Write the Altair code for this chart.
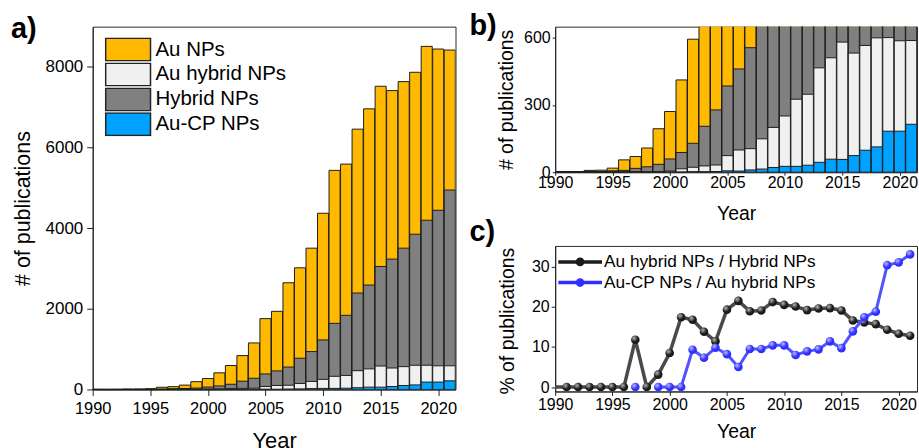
import altair as alt
import pandas as pd

FONT = "Liberation Sans"

# ---- yearly publication counts (panels a and b) ----
years = list(range(1990, 2022))
au_nps = [3, 2, 3, 8, 9, 18, 55, 70, 108, 194,
          271, 412, 594, 841, 1155, 1757, 1938, 2647, 3018, 3505,
          4371, 5435, 5591, 6457, 6961, 7521, 7414, 7637, 7868, 8511,
          8445, 8420]
hybrid_nps = [1, 1, 1, 3, 3, 6, 8, 17, 24, 35,
              59, 88, 129, 205, 278, 385, 461, 556, 775, 940,
              1229, 1641, 1839, 2392, 2590, 3051, 3233, 3505, 3851, 4198,
              4445, 4948]
au_hybrid_nps = [0, 0, 0, 0, 0, 0, 0, 2, 0, 1,
                 5, 15, 22, 28, 32, 74, 99, 105, 149, 200,
                 251, 326, 348, 466, 511, 581, 532, 566, 600, 601,
                 587, 588]
au_cp_nps = [0, 0, 0, 0, 0, 0, 0, 0, 0, 0,
             0, 0, 2, 2, 3, 6, 5, 10, 14, 21,
             26, 26, 31, 44, 58, 57, 74, 98, 113, 183,
             183, 214]

series_names = ["Au NPs", "Au hybrid NPs", "Hybrid NPs", "Au-CP NPs"]
series_colors = ["#FFB900", "#F0F0F0", "#808080", "#00A2FF"]
# drawing order, back to front (bars overlap, all starting at zero)
draw_order = ["Au NPs", "Hybrid NPs", "Au hybrid NPs", "Au-CP NPs"]
values_by_series = {
    "Au NPs": au_nps,
    "Au hybrid NPs": au_hybrid_nps,
    "Hybrid NPs": hybrid_nps,
    "Au-CP NPs": au_cp_nps,
}

# ---- percentage ratios (panel c) ----
ratio_names = ["Au hybrid NPs / Hybrid NPs", "Au-CP NPs / Au hybrid NPs"]
ratio_hybrid = [0, 0, 0, 0, 0, 0, 0, 11.8, 0, 3.1,
                8.5, 17.4, 16.8, 13.8, 11.4, 19.3, 21.5, 18.9, 19.1, 21.2,
                20.5, 20.1, 19.2, 19.6, 19.7, 19.1, 16.6, 16.1, 15.7, 14.3,
                13.3, 12.8]
ratio_cp = [None, None, None, None, None, None, None, 0, None, 0,
            0, 0, 9.3, 7.3, 9.8, 8.2, 5.0, 9.5, 9.5, 10.4,
            10.4, 8.0, 8.9, 9.4, 11.4, 9.7, 13.9, 17.4, 18.8, 30.4,
            31.1, 33.1]

year_ticks = [1990, 1995, 2000, 2005, 2010, 2015, 2020]

bars_df = pd.DataFrame(
    [{"year": yr, "series": s, "count": v}
     for s in draw_order for yr, v in zip(years, values_by_series[s])]
)
ratio_df = pd.DataFrame(
    [{"year": yr, "ratio": ratio_names[0], "pct": v} for yr, v in zip(years, ratio_hybrid)]
    + [{"year": yr, "ratio": ratio_names[1], "pct": v} for yr, v in zip(years, ratio_cp)]
)


def bar_layer(ymax, xaxis, yaxis, legend):
    return alt.Chart(bars_df).transform_calculate(
        x0="datum.year - 0.48", x1="datum.year + 0.48", base="0"
    ).mark_bar(stroke="#1e1e1e", strokeWidth=1, clip=True, opacity=1).encode(
        x=alt.X("x0:Q", scale=alt.Scale(domain=[1990, 2021.5], nice=False, zero=False), axis=xaxis),
        x2="x1:Q",
        y=alt.Y("count:Q", stack=None, scale=alt.Scale(domain=[0, ymax], nice=False), axis=yaxis),
        y2="base:Q",
        color=alt.Color("series:N", scale=alt.Scale(domain=series_names, range=series_colors),
                        legend=legend),
    )


def panel_label(txt, dx, dy):
    return alt.Chart(pd.DataFrame({"label": [txt]})).mark_text(
        font=FONT, fontSize=29, fontWeight="bold", align="left",
        baseline="alphabetic", color="black"
    ).encode(x=alt.value(dx), y=alt.value(dy), text="label:N")


# invisible corner mark that fixes the top-left of the whole figure
anchor = alt.Chart(pd.DataFrame({"k": [0]})).mark_rect(opacity=0).encode(
    x=alt.value(-92), x2=alt.value(-91), y=alt.value(-25), y2=alt.value(-24)
)

# ---------------- panel a ----------------
xaxis_a = alt.Axis(values=year_ticks, format="d", title="Year", labelFontSize=16.5,
                   tickSize=6, labelPadding=5, labelFlush=False, labelOverlap=False,
                   titleFontSize=22, titleY=41)
yaxis_a = alt.Axis(values=[0, 2000, 4000, 6000, 8000], format="d", title="# of publications",
                   labelFontSize=17, tickSize=6, labelPadding=4,
                   titleFontSize=21.5, titleX=-58, titleY=182)
legend_a = alt.Legend(
    title=None, orient="none", legendX=12, legendY=11, padding=0,
    symbolType="M-1,-0.5H1V0.5H-1Z", symbolSize=2025, clipHeight=24,
    symbolStrokeColor="#222222", symbolStrokeWidth=1.5, symbolOpacity=1,
    labelFontSize=20.5, labelOffset=4, rowPadding=1, labelLimit=400,
    labelColor="black", labelFont=FONT,
)
panel_a = alt.layer(
    bar_layer(9000, xaxis_a, yaxis_a, legend_a),
    panel_label("a)", -82, 11),
    anchor,
).properties(width=364, height=364)

# ---------------- panel b ----------------
xaxis_b = alt.Axis(values=year_ticks, format="d", title="Year", labelFontSize=16,
                   tickSize=3, labelPadding=-1, labelFlush=False, labelOverlap=False,
                   titleFontSize=19.5, titleY=32.5)
yaxis_b = alt.Axis(values=[0, 300, 600], format="d", title="# of publications",
                   labelFontSize=16, tickSize=3, labelPadding=2,
                   titleFontSize=19.5, titleX=-39, titleY=73)
panel_b = alt.layer(
    bar_layer(650, xaxis_b, yaxis_b, None),
    panel_label("b)", -86, 8),
).properties(width=363, height=146)

# ---------------- panel c ----------------
xaxis_c = alt.Axis(values=year_ticks, format="d", title="Year", labelFontSize=16,
                   tickSize=4, labelPadding=1, labelFlush=False, labelOverlap=False,
                   titleFontSize=19.5, titleY=31.5)
yaxis_c = alt.Axis(values=[0, 10, 20, 30], format="d", title="% of publications",
                   labelFontSize=16, tickSize=4, labelPadding=2,
                   titleFontSize=19.5, titleX=-38, titleY=75)
xc = alt.X("year:Q", scale=alt.Scale(domain=[1990, 2021.6], nice=False, zero=False), axis=xaxis_c)
yc = alt.Y("pct:Q", scale=alt.Scale(domain=[-1.1, 35.2], nice=False, zero=False), axis=yaxis_c)
legend_c = alt.Legend(
    title=None, orient="none", legendX=3, legendY=6.5, padding=0,
    symbolType="M-1,-0.08H1V0.08H-1Z M0.2,0 A0.2,0.2 0 1 1 -0.2,0 A0.2,0.2 0 1 1 0.2,0 Z",
    symbolSize=1936, clipHeight=19, symbolOpacity=1, symbolStrokeWidth=0,
    labelFontSize=17.3, labelOffset=2, rowPadding=1.7, labelLimit=400,
    labelColor="black", labelFont=FONT,
)
color_c = alt.Color("ratio:N", scale=alt.Scale(domain=ratio_names, range=["#1b1b1b", "#2f2fff"]),
                    legend=legend_c)

# soft highlight drawn over each marker ball
shine = alt.RadialGradient(
    gradient="radial", x1=0.36, y1=0.32, r1=0, x2=0.36, y2=0.32, r2=0.42,
    stops=[alt.GradientStop(color="rgba(255,255,255,0.7)", offset=0),
           alt.GradientStop(color="rgba(255,255,255,0)", offset=1)],
)

base_c = alt.Chart(ratio_df)
is_black = alt.datum.ratio == ratio_names[0]
is_blue = alt.datum.ratio == ratio_names[1]

black_line = base_c.transform_filter(is_black).mark_line(
    color="#4a4a4a", strokeWidth=3.5).encode(x=xc, y=yc)
black_pts = base_c.transform_filter(is_black & (alt.datum.year >= 1991)).mark_point(
    filled=True, opacity=1, size=75).encode(x=xc, y=yc, color=color_c)
black_shine = base_c.transform_filter(is_black & (alt.datum.year >= 1991)).mark_point(
    filled=True, opacity=1, size=75, fill=shine).encode(x=xc, y=yc)

blue_valid = base_c.transform_filter(is_blue).transform_filter("isValid(datum.pct)")
blue_line = blue_valid.transform_calculate(seg="datum.year < 1998 ? 0 : 1").mark_line(
    color="#5252ff", strokeWidth=3).encode(x=xc, y=yc, detail="seg:N")
blue_pts = blue_valid.mark_point(filled=True, opacity=1, size=75).encode(x=xc, y=yc, color=color_c)
blue_shine = blue_valid.mark_point(filled=True, opacity=1, size=75, fill=shine).encode(x=xc, y=yc)

panel_c = alt.layer(
    black_line, black_pts, black_shine, blue_line, blue_pts, blue_shine,
    panel_label("c)", -86, -5),
).properties(width=363, height=146)

right = alt.vconcat(panel_b, panel_c, spacing=74, bounds="flush").resolve_scale(color="independent")

chart = alt.hconcat(panel_a, right, spacing=100, bounds="flush").resolve_scale(
    color="independent"
).properties(padding=0, background="white").configure_view(
    stroke="#2b2b2b", strokeWidth=1
).configure_axis(
    labelFont=FONT, titleFont=FONT, labelColor="black", titleColor="black",
    domainColor="#222222", tickColor="#222222", grid=False, titleFontWeight="normal",
).configure_legend(labelFont=FONT, labelColor="black")

chart.save("out.html", embed_options={"renderer": "svg", "actions": False})
